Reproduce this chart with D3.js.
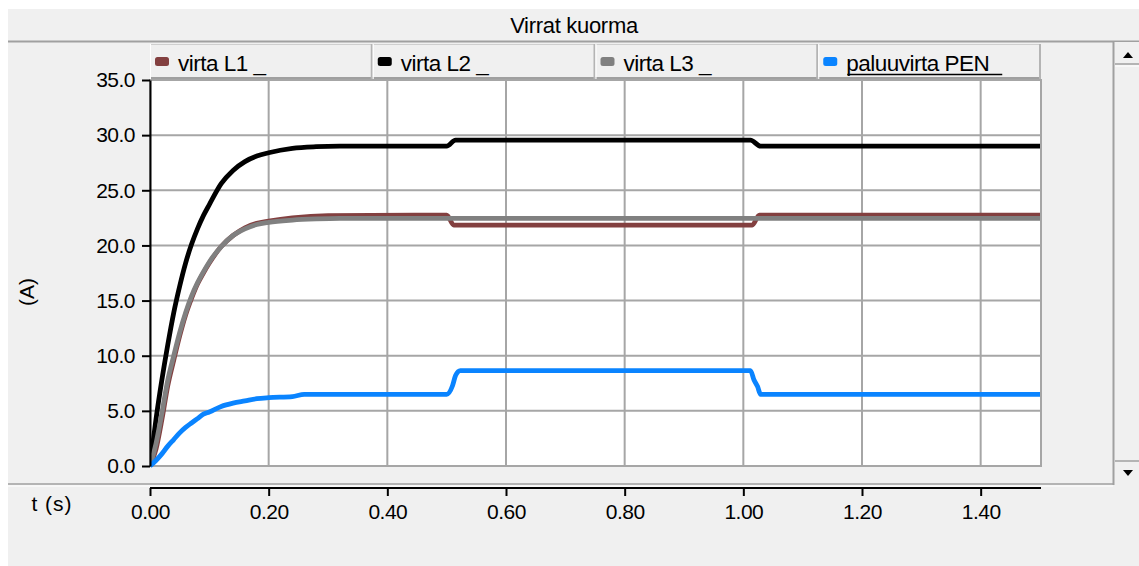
<!DOCTYPE html>
<html>
<head>
<meta charset="utf-8">
<script src="https://cdn.jsdelivr.net/npm/d3@7"></script>
<style>
  html, body { margin: 0; padding: 0; background: #ffffff; }
  svg { display: block; }
  text { font-family: "Liberation Sans", Arial, sans-serif; fill: #000; }
</style>
</head>
<body>
<svg id="chart" width="1139" height="566"></svg>
<script>
// Load currents, samples [time s, current A]
const virtaL1 = [
  [0, 0], [0.01, 1.5], [0.02, 4.2], [0.03, 7.3], [0.04, 9.6], [0.05, 11.8],
  [0.06, 13.7], [0.07, 15.2], [0.08, 16.5], [0.09, 17.5], [0.10, 18.4],
  [0.12, 19.9], [0.14, 20.9], [0.16, 21.6], [0.18, 22.0], [0.20, 22.2],
  [0.24, 22.5], [0.30, 22.7], [0.50, 22.75], [0.512, 21.85], [1.015, 21.85],
  [1.027, 22.75], [1.50, 22.75]
];
const virtaL2 = [
  [0, 0], [0.01, 4.2], [0.02, 7.8], [0.03, 11.0], [0.04, 13.9], [0.05, 16.3],
  [0.06, 18.4], [0.07, 20.1], [0.08, 21.5], [0.09, 22.7], [0.10, 23.7],
  [0.12, 25.6], [0.14, 26.8], [0.16, 27.6], [0.18, 28.1], [0.20, 28.4],
  [0.24, 28.8], [0.28, 28.95], [0.32, 29.0], [0.50, 29.0], [0.515, 29.55],
  [1.012, 29.55], [1.029, 29.0], [1.50, 29.0]
];
const virtaL3 = [
  [0, 0], [0.01, 2.0], [0.02, 4.8], [0.03, 7.8], [0.04, 10.0], [0.05, 12.1],
  [0.06, 13.9], [0.07, 15.4], [0.08, 16.6], [0.09, 17.6], [0.10, 18.5],
  [0.12, 19.9], [0.14, 20.9], [0.16, 21.5], [0.18, 21.9], [0.20, 22.1],
  [0.24, 22.3], [0.28, 22.4], [0.32, 22.45], [1.50, 22.45]
];
const paluuvirtaPEN = [
  [0, 0], [0.01, 0.5], [0.02, 1.1], [0.03, 1.8], [0.04, 2.4], [0.05, 3.0],
  [0.06, 3.5], [0.07, 3.9], [0.08, 4.3], [0.09, 4.7], [0.10, 4.9],
  [0.12, 5.4], [0.14, 5.7], [0.16, 5.9], [0.18, 6.1], [0.20, 6.2],
  [0.24, 6.3], [0.26, 6.5], [0.50, 6.5], [0.51, 7.3], [0.515, 8.2],
  [0.523, 8.65], [1.012, 8.65], [1.018, 7.8], [1.024, 7.2], [1.029, 6.5],
  [1.50, 6.5]
];

const seriesNames = ["virta L1 _", "virta L2 _", "virta L3 _", "paluuvirta PEN"];
const seriesData = [virtaL1, virtaL2, virtaL3, paluuvirtaPEN];
const seriesColors = ["#834040", "#000000", "#808080", "#0a84ff"];

const xTicks = [0, 0.2, 0.4, 0.6, 0.8, 1.0, 1.2, 1.4];
const yTicks = [0, 5, 10, 15, 20, 25, 30, 35];
const chartTitle = "Virrat kuorma";
const xLabel = "t (s)";
const yLabel = "(A)";

const svg = d3.select("#chart");
const W = 1139, H = 566;
const panel = "#f0f0f0", edge = "#a0a0a0";

// window frame
svg.append("rect").attr("x", 8).attr("y", 9).attr("width", W - 8).attr("height", H - 9).attr("fill", panel);

const x = d3.scaleLinear().domain([0, 1.5]).range([150, 1040]);
const y = d3.scaleLinear().domain([0, 35]).range([466, 80]);

// title strip
svg.append("text").attr("x", 574).attr("y", 33).attr("text-anchor", "middle")
  .style("font-size", "22px").style("letter-spacing", "-0.3px").text(chartTitle);
svg.append("line").attr("x1", 8).attr("x2", W).attr("y1", 41.5).attr("y2", 41.5)
  .attr("stroke", edge).attr("stroke-width", 2);

// plot background
svg.append("rect").attr("x", 150).attr("y", 79).attr("width", 892).attr("height", 387).attr("fill", "#fff");

// grid
const grid = svg.append("g").attr("stroke", "#a6a6a6").attr("stroke-width", 2);
grid.selectAll("line.v").data(xTicks).join("line").attr("class", "v")
  .attr("x1", d => x(d)).attr("x2", d => x(d)).attr("y1", 79).attr("y2", 466);
grid.append("line").attr("x1", 1041).attr("x2", 1041).attr("y1", 79).attr("y2", 467);
grid.selectAll("line.h").data(yTicks).join("line").attr("class", "h")
  .attr("x1", 150).attr("x2", 1042).attr("y1", d => y(d)).attr("y2", d => y(d));

// series
svg.append("clipPath").attr("id", "plotclip").append("rect")
  .attr("x", 150).attr("y", 79).attr("width", 891).attr("height", 389);
const line = d3.line().x(d => x(d[0])).y(d => y(d[1])).curve(d3.curveMonotoneX);
svg.append("g").attr("clip-path", "url(#plotclip)")
  .selectAll("path").data(seriesData).join("path")
  .attr("d", line).attr("fill", "none")
  .attr("stroke", (d, i) => seriesColors[i]).attr("stroke-width", 4.8)
  .attr("stroke-linejoin", "miter").attr("stroke-linecap", "butt");

// y axis
const yAxis = svg.append("g").attr("transform", "translate(150,0)")
  .call(d3.axisLeft(y).tickValues(yTicks).tickFormat(d3.format(".1f")).tickSize(8).tickPadding(7).tickSizeOuter(0));
yAxis.select(".domain").attr("stroke", "#000").attr("stroke-width", 2);
yAxis.selectAll(".tick line").attr("stroke", "#000").attr("stroke-width", 2);
yAxis.selectAll(".tick text").style("font-size", "21px").style("letter-spacing", "-0.5px")
  .style("font-family", "'Liberation Sans', Arial, sans-serif");

svg.append("text").attr("transform", "translate(34,292) rotate(-90)").attr("text-anchor", "middle")
  .style("font-size", "21px").text(yLabel);

// legend strip
const legendBand = d3.scaleBand().domain(seriesNames).range([150, 1041]);
const lg = svg.append("g").selectAll("g").data(seriesNames).join("g")
  .attr("transform", d => `translate(${legendBand(d)},44)`);
lg.append("rect").attr("width", legendBand.bandwidth()).attr("height", 35).attr("fill", panel);
lg.append("line").attr("x1", 0).attr("x2", legendBand.bandwidth()).attr("y1", 0.5).attr("y2", 0.5)
  .attr("stroke", "#cfcfcf").attr("stroke-width", 1);
lg.append("line").attr("x1", 0).attr("x2", legendBand.bandwidth()).attr("y1", 34).attr("y2", 34)
  .attr("stroke", edge).attr("stroke-width", 2);
lg.append("line").attr("x1", legendBand.bandwidth() - 1).attr("x2", legendBand.bandwidth() - 1)
  .attr("y1", 0).attr("y2", 35).attr("stroke", "#b4b4b4").attr("stroke-width", 2);
lg.append("line").attr("x1", 0.5).attr("x2", 0.5).attr("y1", 0).attr("y2", 35)
  .attr("stroke", "#ffffff").attr("stroke-width", 1);
lg.append("rect").attr("x", 5).attr("y", 13).attr("width", 14).attr("height", 9).attr("rx", 2.5)
  .attr("fill", (d, i) => seriesColors[i]);
lg.append("text").attr("x", 28).attr("y", 27).style("font-size", "22.5px").style("letter-spacing", "-0.5px")
  .text(d => d);
// the selected series is underlined across its whole label field
lg.filter((d, i) => i === 3).append("line").attr("x1", 29).attr("x2", 184).attr("y1", 30.5).attr("y2", 30.5)
  .attr("stroke", "#000").attr("stroke-width", 1.6);

// lower separator and time axis
svg.append("line").attr("x1", 8).attr("x2", 1113).attr("y1", 484).attr("y2", 484).attr("stroke", edge).attr("stroke-width", 1.5);
svg.append("line").attr("x1", 8).attr("x2", 1113).attr("y1", 486).attr("y2", 486).attr("stroke", "#ffffff").attr("stroke-width", 1);
const xAxis = svg.append("g").attr("transform", "translate(0,488)")
  .call(d3.axisBottom(x).tickValues(xTicks).tickFormat(d3.format(".2f")).tickSize(8).tickPadding(8).tickSizeOuter(0));
xAxis.select(".domain").attr("stroke", "#000").attr("stroke-width", 2).attr("d", `M150,0H1041`);
xAxis.selectAll(".tick line").attr("stroke", "#000").attr("stroke-width", 2);
xAxis.selectAll(".tick text").style("font-size", "21px").style("letter-spacing", "-0.5px")
  .style("font-family", "'Liberation Sans', Arial, sans-serif");
svg.append("text").attr("x", 52).attr("y", 511).attr("text-anchor", "middle")
  .style("font-size", "21px").style("letter-spacing", "1px").text(xLabel);

// scroll bar
const sb = svg.append("g");
sb.append("rect").attr("x", 1114).attr("y", 42).attr("width", 25).attr("height", 443).attr("fill", panel);
sb.append("line").attr("x1", 1113.5).attr("x2", 1113.5).attr("y1", 42).attr("y2", 485).attr("stroke", edge).attr("stroke-width", 2);
sb.append("line").attr("x1", 1115).attr("x2", W).attr("y1", 64).attr("y2", 64).attr("stroke", edge).attr("stroke-width", 1.5);
sb.append("line").attr("x1", 1115).attr("x2", W).attr("y1", 66).attr("y2", 66).attr("stroke", "#fff").attr("stroke-width", 1);
sb.append("line").attr("x1", 1115).attr("x2", W).attr("y1", 461).attr("y2", 461).attr("stroke", edge).attr("stroke-width", 1.5);
sb.append("path").attr("d", "M1123,58L1133,58L1128,52Z").attr("fill", "#000");
sb.append("path").attr("d", "M1123,470L1133,470L1128,476Z").attr("fill", "#000");
</script>
</body>
</html>
